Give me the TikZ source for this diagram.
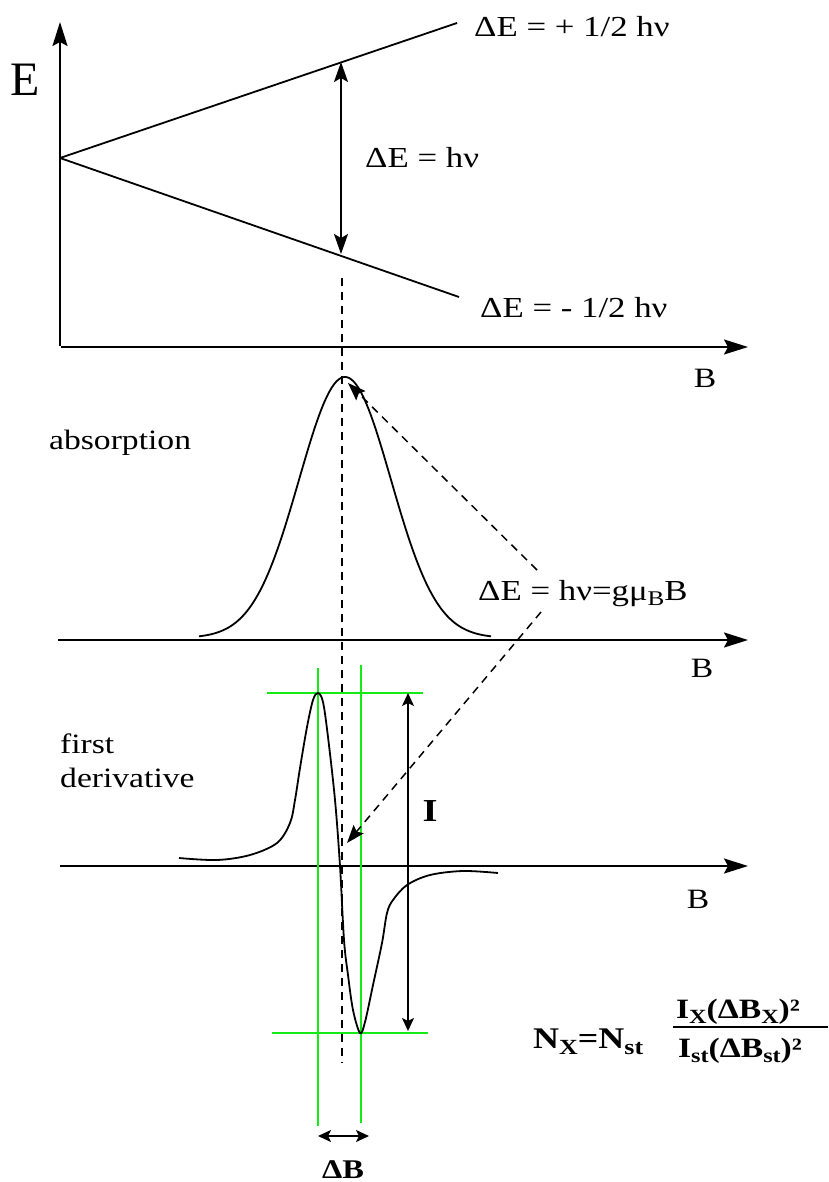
\documentclass[tikz,border=0pt]{standalone}
\usepackage{fontspec}
\setmainfont{Liberation Serif}[FakeStretch=1.2]
\newfontfamily\plainserif{Liberation Serif}
\usepackage{graphicx}
\usetikzlibrary{arrows.meta}
\definecolor{grn}{RGB}{20,235,20}
\newcommand{\dn}[1]{\raisebox{-0.2em}{\scalebox{0.72}{#1}}}
\begin{document}
\begin{tikzpicture}[x=1pt,y=-1pt,
 ax/.style={line width=2pt,-{Stealth[length=24pt,width=15pt,inset=4pt]}},
 lw/.style={line width=1.8pt},
 curve/.style={line width=1.8pt},
 dsh/.style={line width=1.5pt,dash pattern=on 8pt off 6pt},
 dsharr/.style={dsh,-{Stealth[length=18pt,width=13pt,inset=3pt]}},
 dbl/.style={line width=1.8pt,{Stealth[length=20pt,width=14pt,inset=4pt]}-{Stealth[length=20pt,width=14pt,inset=4pt]}},
 small/.style={line width=1.6pt,{Stealth[length=13pt,width=12pt,inset=3pt]}-{Stealth[length=13pt,width=12pt,inset=3pt]}},
 grnline/.style={grn,line width=2pt},
 lbl/.style={font=\fontsize{29}{34}\selectfont,inner sep=0pt},
 txt/.style={font=\fontsize{28}{34}\selectfont,inner sep=0pt},
 bld/.style={font=\bfseries\fontsize{30}{36}\selectfont,inner sep=0pt},
]
\useasboundingbox (0,0) rectangle (828,1182);

% ---------- energy diagram ----------
\coordinate (ybot) at (60,346);
\coordinate (ytop) at (60,22);
\coordinate (x1a) at (61,347);
\coordinate (x1b) at (748,347);
\draw[ax] (ybot) -- (ytop);
\draw[ax] (x1a) -- (x1b);
\node[font=\plainserif\fontsize{48}{50}\selectfont,inner sep=0pt] (E) at (25,80) {E};

\coordinate (z) at (60,158);
\coordinate (uend) at (457,23);
\coordinate (lend) at (459,297);
\draw[lw] (z) -- (uend);
\draw[lw] (z) -- (lend);
\coordinate (a1) at (341,62);
\coordinate (a2) at (341,254);
\draw[dbl] (a1) -- (a2);

\node[lbl,anchor=base west] (up) at (474,37) {ΔE = + 1/2 hν};
\node[lbl,anchor=base west] (mid) at (365,168) {ΔE = hν};
\node[lbl,anchor=base west] (lo) at (480,317) {ΔE = - 1/2 hν};
\node[txt,anchor=base] (B1) at (705,387) {B};

% ---------- absorption ----------
\coordinate (x2a) at (58,640);
\coordinate (x2b) at (748,640);
\draw[ax] (x2a) -- (x2b);
\node[txt,anchor=base] (B2) at (702,677) {B};
\node[txt,anchor=base west] (abs) at (49,449) {absorption};
\draw[curve] plot[domain=199:491,samples=120] (\x,{638-261*exp(-((\x-345)/65)^2)});
\coordinate (peak) at (348,383);

\node[lbl,anchor=base west] (res) at (478,600) {ΔE = hν=gμ\dn{B}B};

% ---------- derivative ----------
\coordinate (x3a) at (60,866);
\coordinate (x3b) at (748,866);
\draw[ax] (x3a) -- (x3b);
\node[txt,anchor=base] (B3) at (698,908) {B};
\node[txt,anchor=base west] (f1) at (60,753) {first};
\node[txt,anchor=base west] (f2) at (60,787) {derivative};

% green guide lines
\coordinate (g1a) at (267,693); \coordinate (g1b) at (423,693);
\coordinate (g2a) at (272,1033); \coordinate (g2b) at (428,1033);
\coordinate (g3a) at (318,668); \coordinate (g3b) at (318,1126);
\coordinate (g4a) at (361,665); \coordinate (g4b) at (361,1123);
\draw[grnline] (g1a) -- (g1b);
\draw[grnline] (g2a) -- (g2b);
\draw[grnline] (g3a) -- (g3b);
\draw[grnline] (g4a) -- (g4b);

\draw[curve] plot[smooth,tension=0.55] coordinates {(179,858) (217,860) (250,855) (277,843) (290,823) (295,800) (300,768) (307,727) (313,700) (318,693) (323,702) (328,737) (335,800) (340,866) (344,940) (348,975) (353,1010) (360,1033) (365,1022) (373,985) (382,943) (387,913) (393,900) (407,885) (430,875) (463,871) (498,873)};

% intensity arrow
\coordinate (i1) at (408,693);
\coordinate (i2) at (408,1031);
\draw[small] (i1) -- (i2);
\node[font=\bfseries\fontsize{32}{36}\selectfont,inner sep=0pt] (I) at (430,811) {I};

% width arrow
\coordinate (w1) at (318,1136);
\coordinate (w2) at (369,1136);
\draw[small] (w1) -- (w2);
\node[font=\bfseries\fontsize{27}{32}\selectfont,inner sep=0pt,anchor=base] (dB) at (343,1178) {ΔB};

% dashed lines
\coordinate (v1) at (342,278);
\coordinate (v2) at (342,1063);
\draw[dsh] (v1) -- (v2);
\coordinate (s1) at (537,570);
\coordinate (s2) at (541,612);
\coordinate (zc) at (347,843);
\draw[dsharr] (s1) -- (peak);
\draw[dsharr] (s2) -- (zc);

% formula
\node[bld,anchor=base west] (NX) at (533,1048) {N\dn{X}=N\dn{st}};
\node[font=\bfseries\fontsize{28}{34}\selectfont,inner sep=0pt,anchor=base] (num) at (738,1018) {I\dn{X}(ΔB\dn{X})²};
\node[font=\bfseries\fontsize{28}{34}\selectfont,inner sep=0pt,anchor=base] (den) at (740,1057) {I\dn{st}(ΔB\dn{st})²};
\coordinate (fl1) at (673,1027);
\coordinate (fl2) at (828,1027);
\draw[line width=1.6pt] (fl1) -- (fl2);
\end{tikzpicture}
\end{document}
